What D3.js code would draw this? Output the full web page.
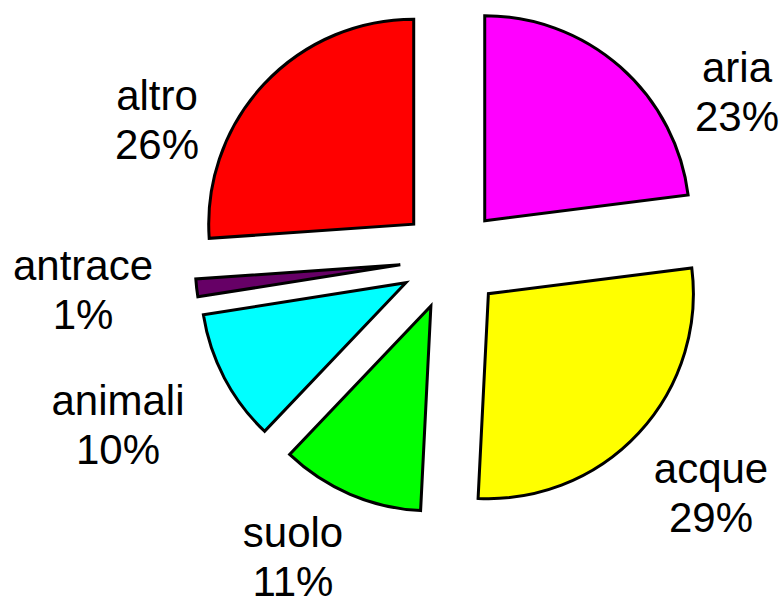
<!DOCTYPE html>
<html>
<head>
<meta charset="utf-8">
<script src="https://cdn.jsdelivr.net/npm/d3@7"></script>
<style>
  html, body { margin: 0; padding: 0; background: #fff; }
  svg { display: block; }
</style>
</head>
<body>
<div id="chart"></div>
<script>
const categories = ["aria", "acque", "suolo", "animali", "antrace", "altro"];
// slice sizes
const values = [23, 27.8, 11.3, 10.4, 1.4, 26.1];
// percentage labels as printed on the chart
const percentLabels = ["23%", "29%", "11%", "10%", "1%", "26%"];
const colors = ["#FF00FF", "#FFFF00", "#00FF00", "#00FFFF", "#660066", "#FF0000"];

// layout (label anchor positions for each category)
const labelX = [737, 711, 293, 118, 83, 157];
const labelY = [82, 483, 547, 415, 280, 110];

const W = 783, H = 605;
const cx = 451, cy = 259, R = 205, explode = 51;
const lineGap = 49;

const svg = d3.select("#chart").append("svg")
  .attr("width", W).attr("height", H);

const pie = d3.pie().sort(null).value(d => d.v).startAngle(0).endAngle(2 * Math.PI);
const arc = d3.arc().innerRadius(0).outerRadius(R);

const data = categories.map((c, i) => ({ c, v: values[i], p: percentLabels[i], col: colors[i], i }));
const arcs = pie(data);

const g = svg.append("g").attr("transform", `translate(${cx},${cy})`);

g.selectAll("path").data(arcs).join("path")
  .attr("d", arc)
  .attr("transform", d => {
    const a = (d.startAngle + d.endAngle) / 2;
    return `translate(${explode * Math.sin(a)},${-explode * Math.cos(a)})`;
  })
  .attr("fill", d => d.data.col)
  .attr("stroke", "#000")
  .attr("stroke-width", 3)
  .attr("stroke-linejoin", "miter");

const lab = svg.append("g")
  .attr("font-family", "Liberation Sans, Arial, sans-serif")
  .attr("font-size", 42)
  .attr("fill", "#000")
  .attr("text-anchor", "middle");

data.forEach((d, i) => {
  const t = lab.append("text").attr("x", labelX[i]).attr("y", labelY[i]);
  t.append("tspan").attr("x", labelX[i]).attr("y", labelY[i]).text(d.c);
  t.append("tspan").attr("x", labelX[i]).attr("y", labelY[i] + lineGap).text(d.p);
});
</script>
</body>
</html>
